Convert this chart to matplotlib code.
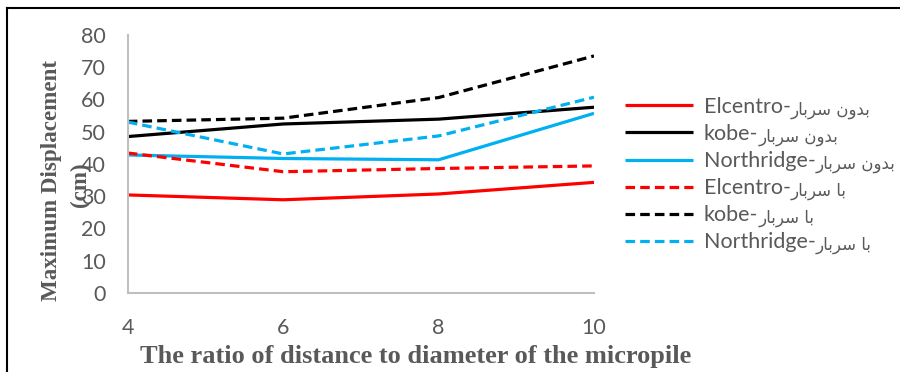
import matplotlib.pyplot as plt
from matplotlib.lines import Line2D

# ratio of distance to diameter
ratio = [4, 6, 8, 10]

# maximum displacement (cm)
elcentro_without = [30.4, 28.9, 30.7, 34.3]
kobe_without = [48.5, 52.4, 53.9, 57.6]
northridge_without = [42.8, 41.7, 41.3, 55.7]
elcentro_with = [43.4, 37.6, 38.6, 39.4]
kobe_with = [53.2, 54.2, 60.6, 73.5]
northridge_with = [53.0, 43.1, 48.7, 60.7]

# Arabic in presentation forms, visual order (matplotlib has no shaping)
without_fa = "\uFEAD\uFE8E\uFE91\uFEAE\uFEB3 \uFEE5\uFEED\uFEAA\uFE91"  # بدون سربار
with_fa = "\uFEAD\uFE8E\uFE91\uFEAE\uFEB3 \uFE8E\uFE91"  # با سربار

series = [
    ("Elcentro-", without_fa, elcentro_without, "#FF0000", "-"),
    ("kobe-", without_fa, kobe_without, "#000000", "-"),
    ("Northridge-", without_fa, northridge_without, "#00B0F0", "-"),
    ("Elcentro-", with_fa, elcentro_with, "#FF0000", "--"),
    ("kobe-", with_fa, kobe_with, "#000000", "--"),
    ("Northridge-", with_fa, northridge_with, "#00B0F0", "--"),
]

sans = ["Lato", "DejaVu Sans"]
gray = "#595959"

fig = plt.figure(figsize=(9, 3.72), dpi=100)
ax = fig.add_axes([0.142, 0.2124, 0.518, 0.6936])

for quake, fa, vals, col, ls in series:
    line, = ax.plot(ratio, vals, color=col, lw=2.3, label=quake, linestyle=ls,
                    solid_capstyle="butt", dash_capstyle="butt")
    if ls == "--":
        line.set_dashes((3, 1.6))

ax.set_xlim(4, 10)
ax.set_ylim(0, 80)
ax.set_xticks(ratio)
ax.set_yticks(range(0, 81, 10))
for s in ["top", "right"]:
    ax.spines[s].set_visible(False)
for s in ["left", "bottom"]:
    ax.spines[s].set_color("#BFBFBF")
    ax.spines[s].set_linewidth(1.5)
ax.tick_params(length=0, labelsize=15.5, labelcolor=gray)
ax.tick_params(axis="y", pad=16)
ax.tick_params(axis="x", pad=18)
for t in ax.get_xticklabels() + ax.get_yticklabels():
    t.set_family(sans)

fig.text(416 / 900, 1 - 356 / 372, "The ratio of distance to diameter of the micropile",
         ha="center", va="center", family="Liberation Serif", weight="bold",
         fontsize=19, color=gray)
fig.text(52 / 900, 1 - 180 / 372, "Maximum Displacement", rotation=90,
         ha="center", va="center", family="Liberation Serif", weight="bold",
         fontsize=16.6, color=gray)
fig.text(80 / 900, 1 - 185 / 372, "(cm)", rotation=90,
         ha="center", va="center", family="Liberation Serif", weight="bold",
         fontsize=16.6, color=gray)

leg = ax.legend(loc="upper left", bbox_to_anchor=(1.025, 0.835), frameon=False,
                handlelength=3.16, handletextpad=0.5, labelspacing=0.33,
                prop={"family": sans, "size": 15.5})
fig.canvas.draw()
# Persian part of each label, a bit smaller, right after the Latin part
for t, (quake, fa, vals, col, ls) in zip(leg.get_texts(), series):
    t.set_color(gray)
    ax.annotate(fa, xy=(1, 0.36), xycoords=t, ha="left", va="center",
                fontsize=12, family="DejaVu Sans", color=gray,
                zorder=10, annotation_clip=False)

# outer frame (top and left edges visible in the source)
fig.add_artist(Line2D([7 / 900, 7 / 900], [0, 1 - 8 / 372], transform=fig.transFigure,
                      color="black", lw=1.5))
fig.add_artist(Line2D([7 / 900, 1], [1 - 8 / 372, 1 - 8 / 372], transform=fig.transFigure,
                      color="black", lw=1.5))

fig.savefig("out.png", dpi=100)
